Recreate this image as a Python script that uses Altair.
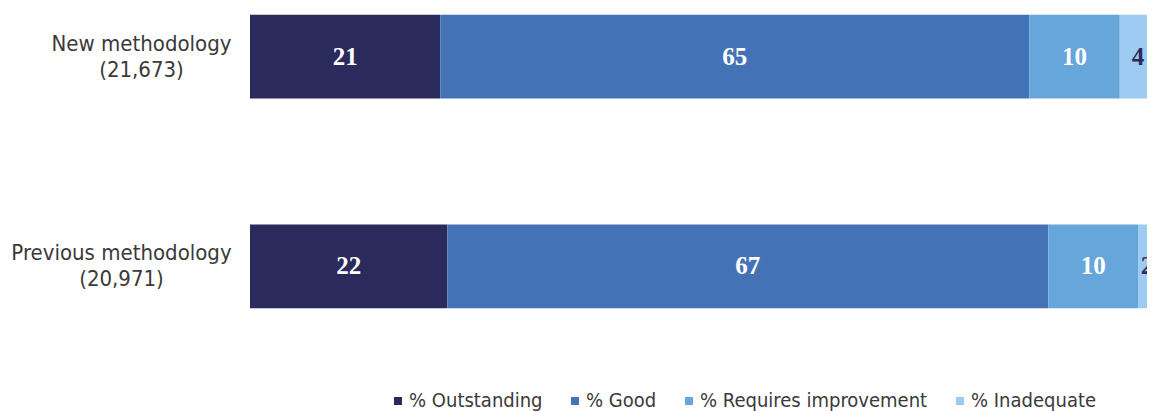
import altair as alt
import pandas as pd

groups = ["New methodology", "Previous methodology"]
counts = ["(21,673)", "(20,971)"]
ratings = ["% Outstanding", "% Good", "% Requires improvement", "% Inadequate"]
new_vals = [21, 65, 10, 4]
prev_vals = [22, 67, 10, 2]
colors = ["#2b2a5c", "#4472b6", "#67a6db", "#9dcbf1"]
label_colors = ["#ffffff", "#ffffff", "#ffffff", "#2b2a5c"]

rows = []
for g, c, vals in zip(groups, counts, [new_vals, prev_vals]):
    for i, (r, v) in enumerate(zip(ratings, vals)):
        rows.append({"group": g + "|" + c, "rating": r, "order": i,
                     "value": v, "tcolor": label_colors[i]})
df = pd.DataFrame(rows)
group_order = [g + "|" + c for g, c in zip(groups, counts)]

SANS = "DejaVu Sans Condensed, Liberation Sans, Arial, sans-serif"
xscale = alt.Scale(domain=[0, 897 / 906])

base = alt.Chart(df).transform_stack(
    stack="value", groupby=["group"], as_=["v0", "v1"],
    offset="normalize", sort=[alt.SortField("order")]
).transform_calculate(mid="(datum.v0 + datum.v1) / 2")

y = alt.Y(
    "group:N", sort=group_order,
    scale=alt.Scale(paddingInner=0.6, paddingOuter=0.032),
    axis=alt.Axis(
        title=None, domain=False, ticks=False, tickSize=0, grid=False,
        labelExpr="split(datum.value, '|')",
        labelAlign="center", labelBaseline="middle", labelLineHeight=26,
        labelOffset=-13,
        labelFont=SANS, labelFontSize=22, labelColor="#3a3a3a", labelLimit=0,
        labelPadding={"condition": {"test": "indexof(datum.value, 'Previous') == 0", "value": 129}, "value": 109},
    ),
)

bars = base.mark_bar(clip=True).encode(
    x=alt.X("v0:Q", scale=xscale, axis=None),
    x2="v1:Q",
    y=y,
    color=alt.Color(
        "rating:N", scale=alt.Scale(domain=ratings, range=colors),
        legend=alt.Legend(
            title=None, orient="none", legendX=138, legendY=383,
            direction="horizontal", symbolType="square", symbolSize=64,
            symbolStrokeWidth=0, labelFont=SANS, labelFontSize=20,
            labelColor="#3a3a3a", labelOffset=1, columnPadding=22,
            padding=0, labelLimit=0,
        ),
    ),
)

texts = base.mark_text(
    font="Liberation Serif", fontWeight="bold", fontSize=25,
    baseline="middle", align="center", clip=True
).encode(
    x=alt.X("mid:Q", scale=xscale, axis=None),
    y=y,
    text="value:Q",
    color=alt.Color("tcolor:N", scale=None),
)

chart = alt.layer(bars, texts).properties(
    width=897, height=307,
    autosize=alt.AutoSizeParams(type="none"),
    padding={"left": 242, "top": 0, "right": 0, "bottom": 96},
    background="white",
).configure_view(strokeWidth=0)

chart.save("out.html", embed_options={"renderer": "svg", "actions": False})
